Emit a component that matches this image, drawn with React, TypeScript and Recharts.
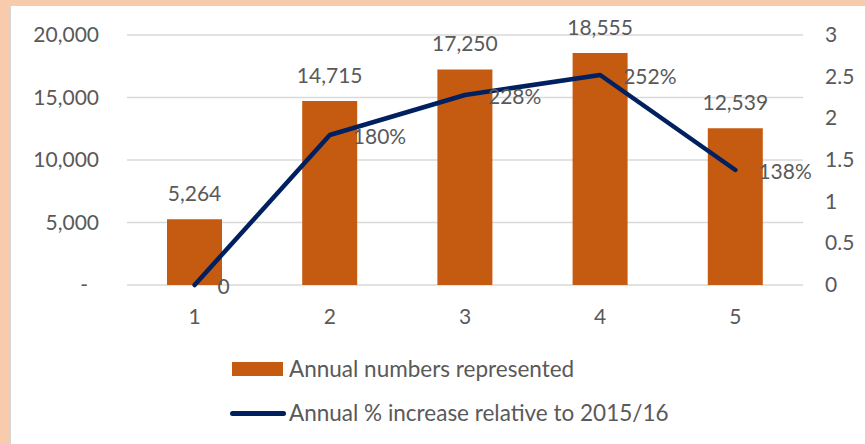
import React from "react";
import {
  ComposedChart,
  Bar,
  Line,
  XAxis,
  YAxis,
  CartesianGrid,
  LabelList,
} from "recharts";

// categories on the x axis
const categories = ["1", "2", "3", "4", "5"];
// bars: annual numbers represented
const annualNumbers = [5264, 14715, 17250, 18555, 12539];
// line: annual increase relative to 2015/16 (as a ratio)
const increaseRatio = [0, 1.8, 2.28, 2.52, 1.38];
const increaseLabels = ["0", "180%", "228%", "252%", "138%"];
// axis ticks
const leftTicks = [0, 5000, 10000, 15000, 20000];
const rightTicks = [0, 0.5, 1, 1.5, 2, 2.5, 3];

const BAR_COLOR = "#C55A11";
const LINE_COLOR = "#002060";
const TEXT_COLOR = "#595959";
const GRID_COLOR = "#D9D9D9";
const FONT = "Lato, 'Open Sans', sans-serif";
const FONT_SIZE = 21;

const data = categories.map((name, i) => ({
  name,
  numbers: annualNumbers[i],
  ratio: increaseRatio[i],
  ratioLabel: increaseLabels[i],
}));

const fmt = (v: number) => v.toLocaleString("en-US");

const LeftTick = ({ x, y, payload }: any) => {
  const v = payload.value as number;
  return (
    <text
      x={v === 0 ? x - 31 : x - 20}
      y={y}
      dy={7}
      textAnchor="end"
      fill={TEXT_COLOR}
      fontSize={FONT_SIZE}
      fontFamily={FONT}
    >
      {v === 0 ? "-" : fmt(v)}
    </text>
  );
};

const RightTick = ({ x, y, payload }: any) => (
  <text
    x={x + 14}
    y={y}
    dy={7}
    textAnchor="start"
    fill={TEXT_COLOR}
    fontSize={FONT_SIZE}
    fontFamily={FONT}
  >
    {payload.value}
  </text>
);

const BottomTick = ({ x, y, payload }: any) => (
  <text
    x={x}
    y={y}
    dy={31}
    textAnchor="middle"
    fill={TEXT_COLOR}
    fontSize={FONT_SIZE}
    fontFamily={FONT}
  >
    {payload.value}
  </text>
);

const BarValueLabel = ({ x, y, width, value }: any) => (
  <text
    x={x + width / 2}
    y={y - 18}
    textAnchor="middle"
    fill={TEXT_COLOR}
    fontSize={FONT_SIZE}
    fontFamily={FONT}
  >
    {fmt(value)}
  </text>
);

const LineValueLabel = ({ x, y, value }: any) => (
  <text
    x={x + 23}
    y={y}
    dy={9}
    textAnchor="start"
    fill={TEXT_COLOR}
    fontSize={FONT_SIZE}
    fontFamily={FONT}
  >
    {value}
  </text>
);

export default function App() {
  return (
    <div
      style={{
        position: "absolute",
        left: 0,
        top: 0,
        width: 865,
        height: 444,
        background: "#F8CBAD",
        overflow: "hidden",
      }}
    >
      <div
        style={{
          position: "absolute",
          left: 9,
          top: 6,
          right: 0,
          bottom: 0,
          background: "#fff",
          borderLeft: "2px solid #D6D6D6",
        }}
      />
      <div style={{ position: "absolute", left: 0, top: 0 }}>
        <ComposedChart
          width={865}
          height={444}
          data={data}
          margin={{ top: 35, right: 0, bottom: 119, left: 0 }}
        >
          <CartesianGrid
            yAxisId="left"
            vertical={false}
            stroke={GRID_COLOR}
            strokeWidth={1.5}
          />
          <XAxis
            dataKey="name"
            axisLine={false}
            tickLine={false}
            height={40}
            tick={<BottomTick />}
          />
          <YAxis
            yAxisId="left"
            orientation="left"
            width={127}
            domain={[0, 20000]}
            ticks={leftTicks}
            axisLine={false}
            tickLine={false}
            tick={<LeftTick />}
          />
          <YAxis
            yAxisId="right"
            orientation="right"
            width={62}
            domain={[0, 3]}
            ticks={rightTicks}
            axisLine={false}
            tickLine={false}
            tick={<RightTick />}
          />
          <Bar
            yAxisId="left"
            dataKey="numbers"
            fill={BAR_COLOR}
            barSize={55}
            isAnimationActive={false}
          >
            <LabelList dataKey="numbers" content={<BarValueLabel />} />
          </Bar>
          <Line
            yAxisId="right"
            dataKey="ratio"
            type="linear"
            stroke={LINE_COLOR}
            strokeWidth={4.5}
            strokeLinecap="round"
            strokeLinejoin="round"
            dot={false}
            activeDot={false}
            isAnimationActive={false}
          >
            <LabelList dataKey="ratioLabel" content={<LineValueLabel />} />
          </Line>
        </ComposedChart>
      </div>
      {/* legend */}
      <div
        style={{
          position: "absolute",
          left: 230,
          top: 352,
          fontFamily: FONT,
          fontSize: 22.5,
          color: TEXT_COLOR,
          lineHeight: "34px",
        }}
      >
        <div style={{ display: "flex", alignItems: "center", height: 34 }}>
          <span
            style={{
              display: "inline-block",
              width: 51,
              height: 14,
              marginLeft: 2,
              marginRight: 6,
              background: BAR_COLOR,
            }}
          />
          Annual numbers represented
        </div>
        <div
          style={{
            display: "flex",
            alignItems: "center",
            height: 34,
            marginTop: 10,
          }}
        >
          <span
            style={{
              display: "inline-block",
              width: 56,
              height: 5,
              borderRadius: 3,
              marginRight: 3,
              background: LINE_COLOR,
            }}
          />
          Annual % increase relative to 2015/16
        </div>
      </div>
    </div>
  );
}
